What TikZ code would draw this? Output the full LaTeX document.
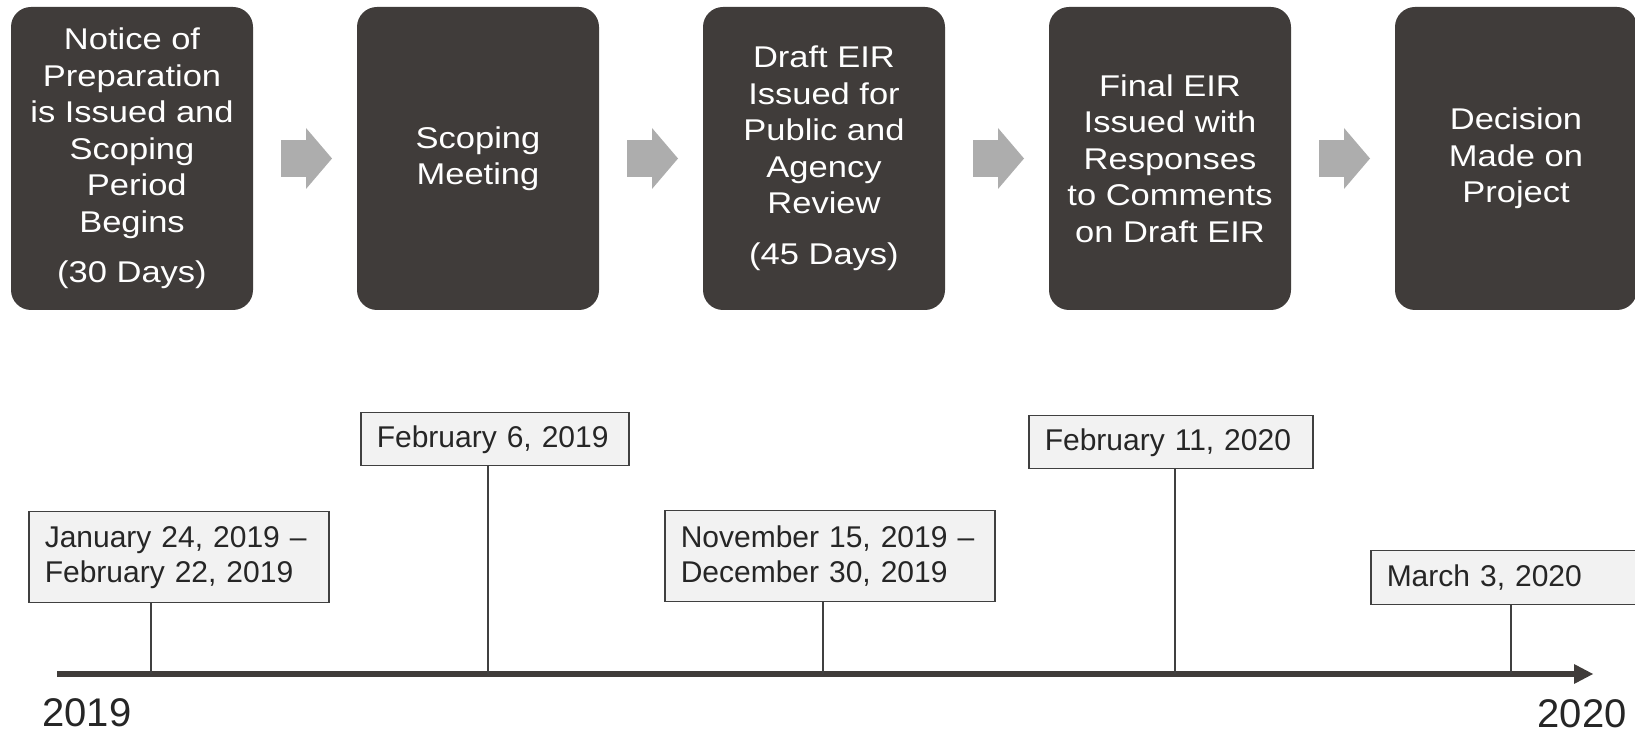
\documentclass[tikz,border=0pt]{standalone}
\usepackage{fontspec}
\setmainfont{Liberation Sans}
\newfontfamily\stepfont[FakeStretch=1.15]{Liberation Sans}
\usepackage{xcolor}
\usetikzlibrary{arrows.meta, positioning}
\definecolor{BoxDark}{RGB}{64,60,58}
\definecolor{ArrowGray}{RGB}{173,173,173}
\definecolor{DateFill}{RGB}{242,242,242}
\definecolor{DateLine}{RGB}{64,64,64}
\definecolor{DateText}{RGB}{38,38,38}
\tikzset{
    stepbox/.style={rectangle, rounded corners=10pt, minimum width=121pt, minimum height=151.5pt,
        inner sep=0pt, outer sep=0pt, align=center, fill=BoxDark, text=white, font=\stepfont\fontsize{15}{18.25}\selectfont},
    steparrow/.style={-{Triangle[length=13pt, width=30.5pt, line width=0pt]}, line width=18.5pt, ArrowGray},
    datebox/.style={rectangle, anchor=north west, draw=DateLine, line width=0.75pt, fill=DateFill,
        text=DateText, inner xsep=8pt, inner ysep=0pt, align=left, font=\fontsize{15}{17.5}\selectfont},
    tickline/.style={DateLine, line width=0.75pt},
    axisline/.style={-{Triangle[length=9.5pt, width=10pt, line width=0pt]}, line width=3.25pt, BoxDark},
    yearlabel/.style={inner sep=0pt, text=DateText, font=\fontsize{20}{20}\selectfont},
}
\begin{document}
\begin{tikzpicture}[x=0.5pt, y=-0.5pt]
    \useasboundingbox (0,0) rectangle (1635,732);
    \node[stepbox] (notice) at (132,158.5) {Notice of\\Preparation\\is Issued and\\Scoping\\\mbox{}\ Period\\Begins\\[7pt](30 Days)};
    \node[stepbox, right=52pt of notice] (scoping) {Scoping\\Meeting};
    \node[stepbox, right=52pt of scoping] (draft) {Draft EIR\\Issued for\\Public and\\Agency\\Review\\[7pt](45 Days)};
    \node[stepbox, right=52pt of draft] (final) {Final EIR\\Issued with\\Responses\\to Comments\\on Draft EIR};
    \node[stepbox, right=52pt of final] (decision) {Decision\\Made on\\Project};

    \foreach \a/\b in {notice/scoping, scoping/draft, draft/final, final/decision}
        \draw[steparrow] ([xshift=14pt]\a.east) -- ([xshift=-12.5pt]\b.west);

    \coordinate (axstart) at (57,674);
    \coordinate (axend) at (1593,674);
    \draw[axisline] (axstart) -- (axend);
    \node[yearlabel, anchor=base west] (y2019) at (42,726) {2019};
    \node[yearlabel, anchor=base east] (y2020) at (1627,727) {2020};

    \node[datebox, text width=134pt, minimum height=45.5pt] (nopdate) at (28,511) {January 24, 2019 --\\February 22, 2019};
    \node[datebox, text width=118pt, minimum height=26.5pt] (scopedate) at (360,412) {February 6, 2019};
    \node[datebox, text width=149pt, minimum height=45.5pt] (draftdate) at (664,510) {November 15, 2019 --\\December 30, 2019};
    \node[datebox, text width=126pt, minimum height=26.5pt] (finaldate) at (1028,415) {February 11, 2020};
    \node[datebox, text width=129pt, minimum height=27pt] (decisiondate) at (1370,550) {March 3, 2020};

    \foreach \d/\x in {nopdate/151, scopedate/488, draftdate/823, finaldate/1175, decisiondate/1511} {
        \coordinate (tick) at (\x,674);
        \draw[tickline] (tick |- \d.south) -- (tick);
    }
\end{tikzpicture}
\end{document}
